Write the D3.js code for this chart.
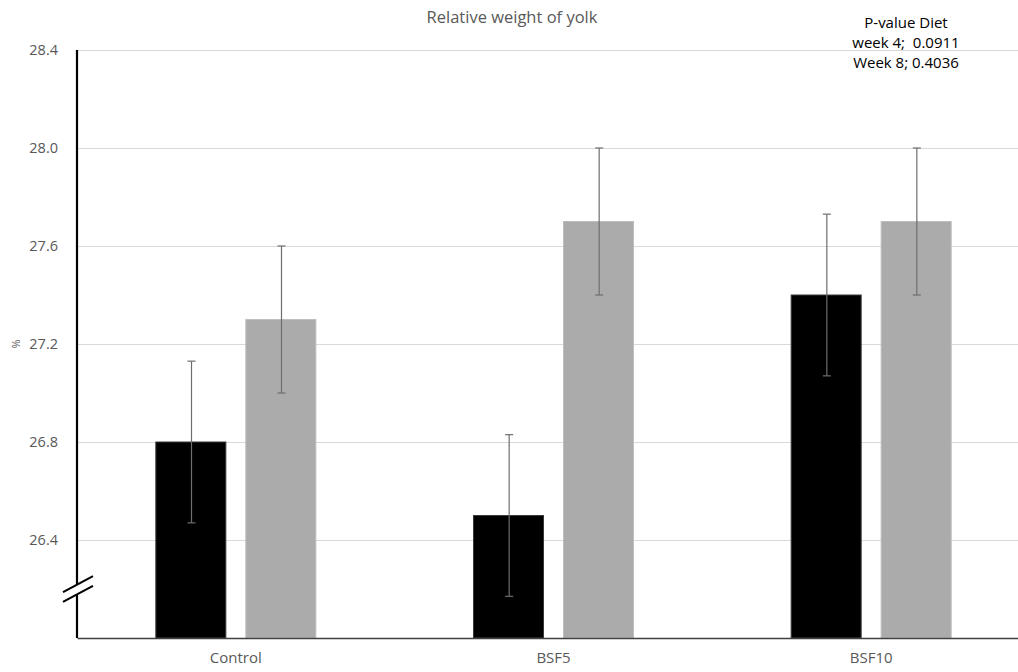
<!DOCTYPE html>
<html>
<head>
<meta charset="utf-8">
<script src="https://cdn.jsdelivr.net/npm/d3@7"></script>
<style>
  body { margin: 0; background: #fff; }
  svg { display: block; font-family: "Open Sans", "Noto Sans", sans-serif; }
</style>
</head>
<body>
<div id="chart"></div>
<script>
const categories = ["Control", "BSF5", "BSF10"];
const series = ["Week 4", "Week 8"];
const week4Values = [26.8, 26.5, 27.4];
const week4Errors = [0.33, 0.33, 0.33];
const week8Values = [27.3, 27.7, 27.7];
const week8Errors = [0.3, 0.3, 0.3];
const yTicks = [26.4, 26.8, 27.2, 27.6, 28.0, 28.4];
const titleText = "Relative weight of yolk";
const noteLines = ["P-value Diet", "week 4;  0.0911", "Week 8; 0.4036"];

const width = 1018, height = 672;
const margin = { left: 77, right: -12, top: 50, bottom: 34 };

const rows = [];
categories.forEach((c, i) => {
  rows.push({ cat: c, s: series[0], v: week4Values[i], e: week4Errors[i] });
  rows.push({ cat: c, s: series[1], v: week8Values[i], e: week8Errors[i] });
});

const colors = d3.scaleOrdinal().domain(series).range(["#000000", "#ababab"]);
const strokes = d3.scaleOrdinal().domain(series).range(["#3a3a3a", "#bdbdbd"]);

const x0 = d3.scaleBand().domain(categories).range([margin.left, width - margin.right]).padding(0);
const gw = 161;
const x1 = d3.scaleBand().domain(series)
  .range([(x0.bandwidth() - gw) / 2, (x0.bandwidth() + gw) / 2])
  .paddingInner(0.211).paddingOuter(0);
const y = d3.scaleLinear().domain([26.0, 28.4]).range([height - margin.bottom, margin.top]);

const svg = d3.select("#chart").append("svg").attr("width", width).attr("height", height);

// gridlines
svg.append("g")
  .selectAll("line").data(yTicks).enter().append("line")
  .attr("x1", margin.left).attr("x2", width)
  .attr("y1", d => Math.round(y(d)) + 0.5).attr("y2", d => Math.round(y(d)) + 0.5)
  .attr("stroke", "#d9d9d9").attr("stroke-width", 1);

// y tick labels
const yAxis = svg.append("g")
  .attr("transform", `translate(${margin.left - 16},0)`)
  .call(d3.axisLeft(y).tickValues(yTicks).tickFormat(d3.format(".1f")).tickSize(0));
yAxis.select(".domain").remove();
yAxis.selectAll("text").attr("fill", "#595959").style("font-size", "14.5px")
  .attr("font-family", "Open Sans, Noto Sans, sans-serif");

// bars
const groups = svg.append("g").selectAll("g").data(categories).enter().append("g")
  .attr("transform", d => `translate(${x0(d)},0)`);

groups.selectAll("rect")
  .data(c => rows.filter(r => r.cat === c))
  .enter().append("rect")
  .attr("x", d => x1(d.s) + 0.5)
  .attr("y", d => y(d.v))
  .attr("width", x1.bandwidth() - 1)
  .attr("height", d => y(26.0) - y(d.v))
  .attr("fill", d => colors(d.s))
  .attr("stroke", d => strokes(d.s))
  .attr("stroke-width", 1);

// error bars
const eb = groups.selectAll("g.err")
  .data(c => rows.filter(r => r.cat === c))
  .enter().append("g").attr("class", "err");
const cx = d => Math.round(x1(d.s) + x1.bandwidth() / 2) + 0.5;
eb.append("line")
  .attr("x1", cx).attr("x2", cx)
  .attr("y1", d => y(d.v - d.e)).attr("y2", d => y(d.v + d.e))
  .attr("stroke", "#6e6e6e").attr("stroke-width", 1.2);
[-1, 1].forEach(sg => {
  eb.append("line")
    .attr("x1", d => cx(d) - 4).attr("x2", d => cx(d) + 4)
    .attr("y1", d => y(d.v + sg * d.e)).attr("y2", d => y(d.v + sg * d.e))
    .attr("stroke", "#6e6e6e").attr("stroke-width", 1.2);
});

// x axis baseline
const xAxis = svg.append("g")
  .attr("transform", `translate(0,${y(26.0)})`)
  .call(d3.axisBottom(x0).tickSize(0).tickPadding(14));
xAxis.select(".domain").attr("stroke", "#404040").attr("stroke-width", 1.3);
xAxis.selectAll("text").attr("fill", "#595959").style("font-size", "15px")
  .attr("font-family", "Open Sans, Noto Sans, sans-serif");

// y axis line
svg.append("line")
  .attr("x1", margin.left).attr("x2", margin.left)
  .attr("y1", y(28.4)).attr("y2", y(26.0))
  .attr("stroke", "#000").attr("stroke-width", 2.2);

// axis break mark
const bx = margin.left;
const breakY = [26.22, 26.18];
svg.append("path")
  .attr("d", `M${bx - 14},${y(breakY[0]) + 8} L${bx + 16},${y(breakY[0]) - 8} L${bx + 16},${y(breakY[1]) - 8} L${bx - 14},${y(breakY[1]) + 8}Z`)
  .attr("fill", "#fff").attr("stroke", "none");
breakY.forEach(b => {
  svg.append("line")
    .attr("x1", bx - 14).attr("y1", y(b) + 8)
    .attr("x2", bx + 16).attr("y2", y(b) - 8)
    .attr("stroke", "#000").attr("stroke-width", 2);
});

// title
svg.append("text")
  .attr("x", 512).attr("y", 23)
  .attr("text-anchor", "middle")
  .attr("fill", "#595959").style("font-size", "16.5px")
  .text(titleText);

// y label
svg.append("text")
  .attr("transform", `translate(20,${y(27.2)}) rotate(-90)`)
  .attr("text-anchor", "middle")
  .attr("fill", "#595959").style("font-size", "11px")
  .text("%");

// p-value note
svg.append("g").selectAll("text").data(noteLines).enter().append("text")
  .attr("x", 906).attr("y", (d, i) => 28 + i * 20)
  .attr("text-anchor", "middle")
  .attr("fill", "#000").style("font-size", "15px")
  .style("white-space", "pre")
  .text(d => d);
</script>
</body>
</html>
